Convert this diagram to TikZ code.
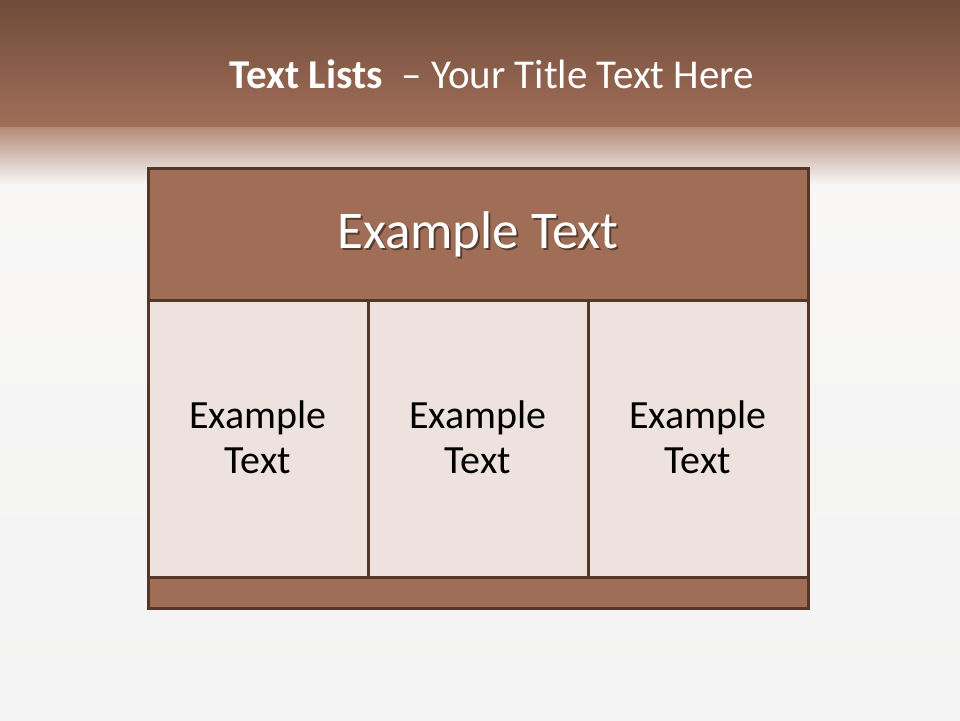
\documentclass[tikz,border=0pt]{standalone}
\usepackage{fontspec}
\setmainfont{Carlito}
\definecolor{bandtop}{HTML}{6E4B3A}
\definecolor{bandbot}{HTML}{A26F58}
\definecolor{pagebg}{HTML}{F8F7F6}
\definecolor{pagebg2}{HTML}{F3F3F3}
\definecolor{headfill}{HTML}{A06E56}
\definecolor{cellfill}{HTML}{EDE2DE}
\definecolor{edge}{HTML}{55372A}
\definecolor{shadowc}{HTML}{5A3D30}
\tikzset{
  headbox/.style={draw=edge, line width=3pt, fill=headfill},
  cellbox/.style={draw=edge, line width=3pt, fill=cellfill},
  celltext/.style={font=\fontsize{40}{45}\selectfont, text=black, align=center},
}
\begin{document}
\begin{tikzpicture}[x=1pt,y=-1pt]
\useasboundingbox (0,0) rectangle (960,720);
% background
\shade[top color=pagebg, bottom color=pagebg2] (0,180) rectangle (960,720);
\shade[top color=bandtop, bottom color=bandbot] (0,0) rectangle (960,128);
\shade[top color=bandbot!80!white, bottom color=pagebg] (0,127.5) rectangle (960,185);
% title
\node[text=white, font=\fontsize{41}{48}\selectfont, anchor=center] (title) at (492,74)
  {\textbf{Text Lists}\ \ – Your Title Text Here};
% table
\path[headbox] (148,168) rectangle (808,300);
\path[cellbox] (148,300) rectangle (368,577);
\path[cellbox] (368,300) rectangle (588,577);
\path[cellbox] (588,300) rectangle (808,577);
\path[headbox] (148,577) rectangle (808,608);
\node[text=white, font=\fontsize{53}{60}\selectfont] (hd) at (478,235)
  {\makebox[0pt][l]{\hspace{2pt}\raisebox{-2pt}{\color{shadowc}Example Text}}Example Text};
\node[celltext] (c1) at (258,437) {Example\\Text};
\node[celltext] (c2) at (478,437) {Example\\Text};
\node[celltext] (c3) at (698,437) {Example\\Text};
\end{tikzpicture}
\end{document}
